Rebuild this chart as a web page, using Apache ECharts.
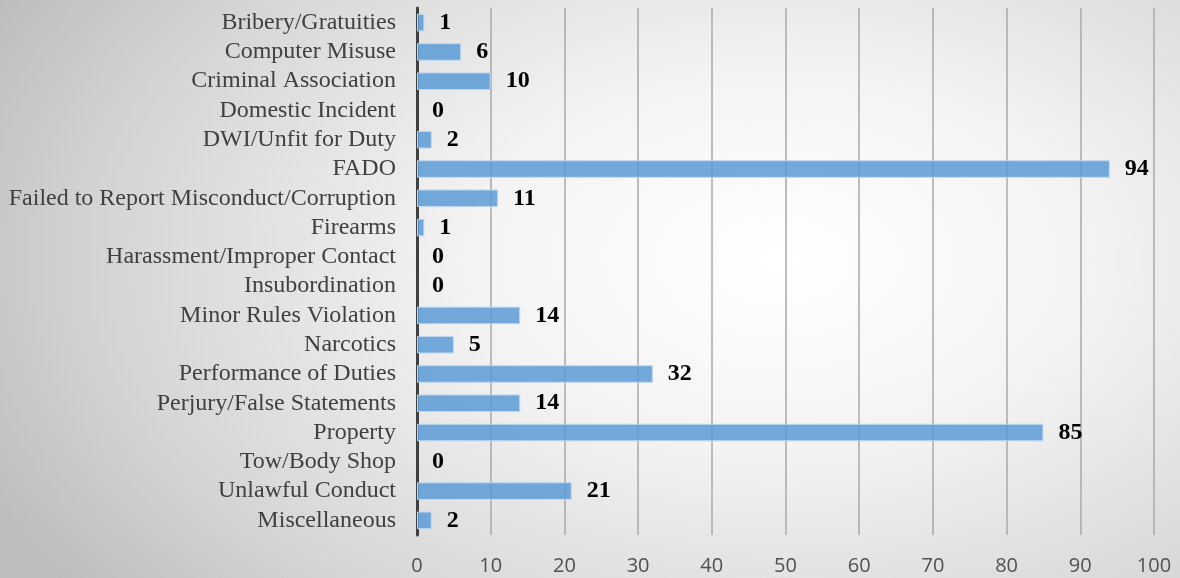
<!DOCTYPE html>
<html><head><meta charset="utf-8">
<script src="https://cdn.jsdelivr.net/npm/echarts@6/dist/echarts.min.js"></script>
<style>
html,body{margin:0;padding:0;}
#c{width:1180px;height:578px;background:radial-gradient(ellipse 75% 95% at 66% 45%, #ffffff 0%, #f3f3f3 35%, #d6d6d6 75%, #bdbdbd 100%);}
</style></head>
<body><div id="c"></div>
<script>
const categories = ["Bribery/Gratuities","Computer Misuse","Criminal Association","Domestic Incident","DWI/Unfit for Duty","FADO","Failed to Report Misconduct/Corruption","Firearms","Harassment/Improper Contact","Insubordination","Minor Rules Violation","Narcotics","Performance of Duties","Perjury/False Statements","Property","Tow/Body Shop","Unlawful Conduct","Miscellaneous"];
const values = [1,6,10,0,2,94,11,1,0,0,14,5,32,14,85,0,21,2];
const xTicks = {min:0, max:100, interval:10};

const chart = echarts.init(document.getElementById('c'), null, {renderer:'canvas'});
chart.setOption({
  backgroundColor:'transparent',
  animation:false,
  grid:{left:417, right:26, top:8, bottom:43, containLabel:false},
  xAxis:{type:'value', min:xTicks.min, max:xTicks.max, interval:xTicks.interval,
    axisLine:{show:false}, axisTick:{show:false},
    splitLine:{show:true, lineStyle:{color:'#a8a8a8', width:1.5}},
    axisLabel:{margin:21, fontFamily:'"Open Sans", "Liberation Sans", sans-serif', fontSize:20, color:'#505050'}},
  yAxis:{type:'category', data:categories, inverse:true,
    axisLine:{show:true, lineStyle:{color:'#404040', width:3}},
    axisTick:{show:false},
    axisLabel:{interval:0, hideOverlap:false, margin:21, fontFamily:'"Liberation Serif", "Times New Roman", serif', fontSize:24, color:'#404040'}},
  series:[{type:'bar', data:values.map(v => ({value:v, itemStyle:{borderWidth: v === 0 ? 0 : 1}})), barWidth:'60%',
    itemStyle:{color:'rgba(91,155,213,0.85)', borderColor:'#bcd7ef', borderWidth:1},
    label:{show:true, position:'right', distance:15, fontFamily:'"Liberation Serif", "Times New Roman", serif', fontWeight:'bold', fontSize:24, color:'#000'}}]
});
</script></body></html>
